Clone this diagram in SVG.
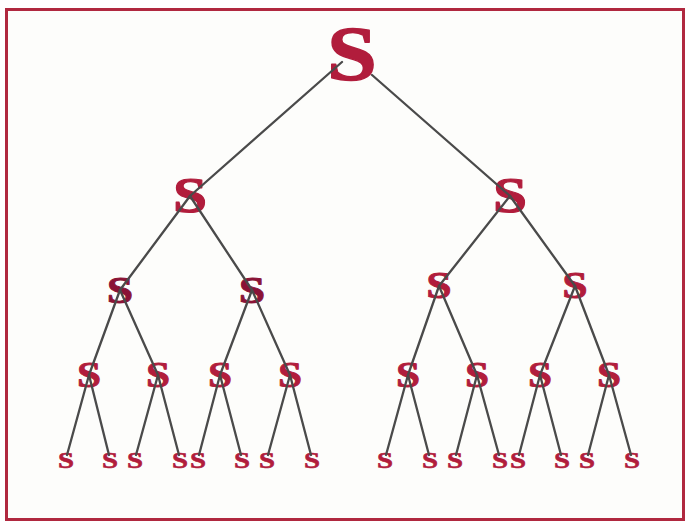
<svg xmlns="http://www.w3.org/2000/svg" width="687" height="521" viewBox="0 0 687 521">
  <style>
    .s { font-family: "Liberation Serif", "Times New Roman", serif; font-weight: bold; text-anchor: middle; fill: #b11d3c; stroke: #b11d3c; stroke-linejoin: round; }
    .l0 { font-size: 78px; stroke-width: 1.4; }
    .l1 { font-size: 51px; stroke-width: 1.1; }
    .l2 { font-size: 38px; stroke-width: 0.9; }
    .l2d { fill: #8a1336; stroke: #8a1336; }
    .l3 { font-size: 36px; stroke-width: 0.9; }
    .l4 { font-size: 23px; stroke-width: 0.6; }
    .edge { stroke: #4a4a4a; stroke-width: 2.3; stroke-linecap: round; fill: none; }
  </style>
  <rect x="0" y="0" width="687" height="521" fill="#ffffff"/>
  <rect x="6.5" y="9.5" width="677" height="510" fill="#fdfdfb" stroke="#b0283f" stroke-width="3"/>

  <!-- nodes: each letter is widened a little around its own anchor -->
  <!-- root -->
  <g id="n0"><text class="s l0" transform="translate(352 80) scale(1.15 1)">S</text></g>
  <!-- level 1 -->
  <g id="n1"><text class="s l1" transform="translate(190 212) scale(1.2 1)">S</text></g>
  <g id="n2"><text class="s l1" transform="translate(510 212) scale(1.2 1)">S</text></g>
  <!-- level 2 -->
  <g id="n3"><text class="s l2 l2d" transform="translate(120 303) scale(1.25 1)">S</text></g>
  <g id="n4"><text class="s l2 l2d" transform="translate(252 303) scale(1.25 1)">S</text></g>
  <g id="n5"><text class="s l2" transform="translate(439 298) scale(1.2 1)">S</text></g>
  <g id="n6"><text class="s l2" transform="translate(575 298) scale(1.2 1)">S</text></g>
  <!-- level 3 -->
  <g id="n7"><text class="s l3" transform="translate(89 387) scale(1.2 1)">S</text></g>
  <g id="n8"><text class="s l3" transform="translate(158 387) scale(1.2 1)">S</text></g>
  <g id="n9"><text class="s l3" transform="translate(220 387) scale(1.2 1)">S</text></g>
  <g id="n10"><text class="s l3" transform="translate(290 387) scale(1.2 1)">S</text></g>
  <g id="n11"><text class="s l3" transform="translate(408 387) scale(1.2 1)">S</text></g>
  <g id="n12"><text class="s l3" transform="translate(477 387) scale(1.2 1)">S</text></g>
  <g id="n13"><text class="s l3" transform="translate(540 387) scale(1.2 1)">S</text></g>
  <g id="n14"><text class="s l3" transform="translate(609 387) scale(1.2 1)">S</text></g>
  <!-- leaves -->
  <g id="n15"><text class="s l4" transform="translate(66 468) scale(1.25 1)">S</text></g>
  <g id="n16"><text class="s l4" transform="translate(110 468) scale(1.25 1)">S</text></g>
  <g id="n17"><text class="s l4" transform="translate(135 468) scale(1.25 1)">S</text></g>
  <g id="n18"><text class="s l4" transform="translate(180 468) scale(1.25 1)">S</text></g>
  <g id="n19"><text class="s l4" transform="translate(198 468) scale(1.25 1)">S</text></g>
  <g id="n20"><text class="s l4" transform="translate(242 468) scale(1.25 1)">S</text></g>
  <g id="n21"><text class="s l4" transform="translate(267 468) scale(1.25 1)">S</text></g>
  <g id="n22"><text class="s l4" transform="translate(312 468) scale(1.25 1)">S</text></g>
  <g id="n23"><text class="s l4" transform="translate(385 468) scale(1.25 1)">S</text></g>
  <g id="n24"><text class="s l4" transform="translate(430 468) scale(1.25 1)">S</text></g>
  <g id="n25"><text class="s l4" transform="translate(455 468) scale(1.25 1)">S</text></g>
  <g id="n26"><text class="s l4" transform="translate(500 468) scale(1.25 1)">S</text></g>
  <g id="n27"><text class="s l4" transform="translate(518 468) scale(1.25 1)">S</text></g>
  <g id="n28"><text class="s l4" transform="translate(562 468) scale(1.25 1)">S</text></g>
  <g id="n29"><text class="s l4" transform="translate(587 468) scale(1.25 1)">S</text></g>
  <g id="n30"><text class="s l4" transform="translate(632 468) scale(1.25 1)">S</text></g>

  <!-- connectors, drawn over the letters -->
  <g id="edges" class="edge">
    <line x1="342" y1="62" x2="190" y2="196"/>
    <line x1="372" y1="75" x2="510" y2="196"/>
    <line x1="190" y1="196" x2="120" y2="290"/>
    <line x1="190" y1="196" x2="252" y2="290"/>
    <line x1="510" y1="196" x2="439" y2="286"/>
    <line x1="510" y1="196" x2="575" y2="286"/>
    <line x1="120" y1="290" x2="89" y2="375"/>
    <line x1="120" y1="290" x2="158" y2="375"/>
    <line x1="252" y1="290" x2="220" y2="375"/>
    <line x1="252" y1="290" x2="290" y2="375"/>
    <line x1="439" y1="286" x2="408" y2="375"/>
    <line x1="439" y1="286" x2="477" y2="375"/>
    <line x1="575" y1="286" x2="540" y2="375"/>
    <line x1="575" y1="286" x2="609" y2="375"/>
    <line x1="89" y1="375" x2="67" y2="455"/>
    <line x1="89" y1="375" x2="109" y2="455"/>
    <line x1="158" y1="375" x2="136" y2="455"/>
    <line x1="158" y1="375" x2="179" y2="455"/>
    <line x1="220" y1="375" x2="199" y2="455"/>
    <line x1="220" y1="375" x2="241" y2="455"/>
    <line x1="290" y1="375" x2="268" y2="455"/>
    <line x1="290" y1="375" x2="311" y2="455"/>
    <line x1="408" y1="375" x2="386" y2="455"/>
    <line x1="408" y1="375" x2="429" y2="455"/>
    <line x1="477" y1="375" x2="456" y2="455"/>
    <line x1="477" y1="375" x2="499" y2="455"/>
    <line x1="540" y1="375" x2="519" y2="455"/>
    <line x1="540" y1="375" x2="561" y2="455"/>
    <line x1="609" y1="375" x2="588" y2="455"/>
    <line x1="609" y1="375" x2="631" y2="455"/>
  </g>
</svg>
